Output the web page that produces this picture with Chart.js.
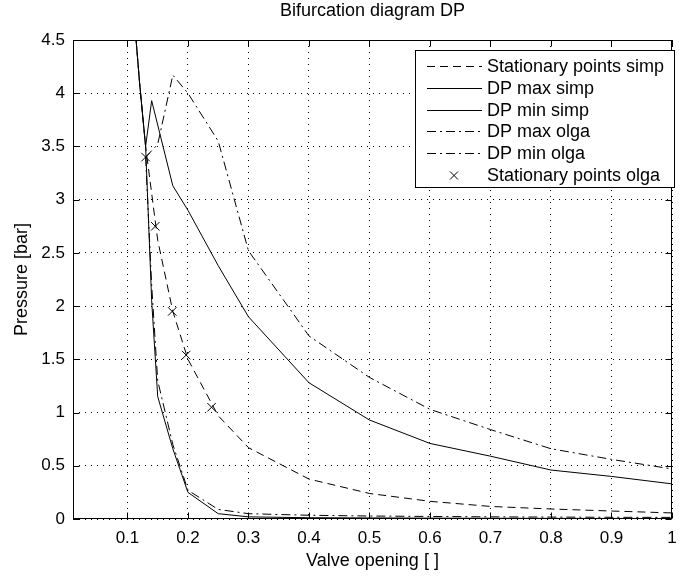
<!DOCTYPE html>
<html>
<head>
<meta charset="utf-8">
<script src="https://cdn.jsdelivr.net/npm/chart.js@4.4.1/dist/chart.umd.min.js"></script>
<style>
  html, body { margin: 0; padding: 0; background: #fff; }
</style>
</head>
<body>
<canvas id="bifChart" width="679" height="576"></canvas>
<script>
// values
const simpStatX = [0.1, 0.11, 0.12, 0.13, 0.15, 0.175, 0.2, 0.25, 0.3, 0.4, 0.5, 0.6, 0.7, 0.8, 0.9, 1.0];
const simpStatY = [5.6, 4.8, 4.1, 3.5, 2.62, 1.95, 1.5, 0.97, 0.67, 0.375, 0.24, 0.166, 0.118, 0.094, 0.075, 0.057];

const simpMaxX = [0.1, 0.11, 0.12, 0.13, 0.14, 0.175, 0.2, 0.25, 0.3, 0.4, 0.5, 0.6, 0.7, 0.8, 0.9, 1.0];
const simpMaxY = [5.6, 4.8, 4.1, 3.5, 3.93, 3.13, 2.9, 2.38, 1.9, 1.28, 0.93, 0.71, 0.59, 0.46, 0.40, 0.33];

const simpMinX = [0.1, 0.11, 0.12, 0.13, 0.14, 0.15, 0.175, 0.2, 0.25, 0.3, 0.4, 0.5, 0.6, 0.7, 0.8, 0.9, 1.0];
const simpMinY = [5.6, 4.8, 4.1, 3.5, 2.05, 1.15, 0.66, 0.25, 0.05, 0.02, 0.012, 0.01, 0.008, 0.007, 0.006, 0.005, 0.005];

const olgaMaxX = [0.13, 0.15, 0.175, 0.2, 0.25, 0.3, 0.4, 0.5, 0.6, 0.7, 0.8, 0.9, 1.0];
const olgaMaxY = [3.4, 3.52, 4.17, 4.0, 3.55, 2.52, 1.72, 1.33, 1.03, 0.84, 0.66, 0.56, 0.47];

const olgaMinX = [0.13, 0.14, 0.15, 0.175, 0.2, 0.25, 0.3, 0.4, 0.5, 0.6, 0.7, 0.8, 0.9, 1.0];
const olgaMinY = [3.4, 2.2, 1.3, 0.7, 0.27, 0.09, 0.05, 0.035, 0.028, 0.024, 0.02, 0.018, 0.016, 0.015];

const olgaStatX = [0.13, 0.146, 0.174, 0.197, 0.239];
const olgaStatY = [3.40, 2.75, 1.95, 1.54, 1.05];

const xTicks = [0.1, 0.2, 0.3, 0.4, 0.5, 0.6, 0.7, 0.8, 0.9, 1];
const xTickLabels = ['0.1', '0.2', '0.3', '0.4', '0.5', '0.6', '0.7', '0.8', '0.9', '1'];
const yTicks = [0, 0.5, 1, 1.5, 2, 2.5, 3, 3.5, 4, 4.5];
const yTickLabels = ['0', '0.5', '1', '1.5', '2', '2.5', '3', '3.5', '4', '4.5'];

const FONT = "'Liberation Sans', Arial, Helvetica, sans-serif";
const pts = (xs, ys) => xs.map((x, i) => ({ x: x, y: ys[i] }));

const DASHED = [8, 5];
const DASHDOT = [9, 4, 2, 4];

// common look of every curve
const lineStyle = {
  borderColor: '#000', backgroundColor: '#000', borderWidth: 1,
  pointRadius: 0, tension: 0, fill: false, clip: 0
};

// box, inward ticks, title and legend the way matlab draws them
const matlabAxes = {
  id: 'matlabAxes',
  afterDraw(chart) {
    const ctx = chart.ctx;
    const a = chart.chartArea;
    const xs = chart.scales.x, ys = chart.scales.y;
    const L = Math.round(a.left) + 0.5, R = Math.round(a.right) - 0.5;
    const T = Math.round(a.top) + 0.5, B = Math.round(a.bottom) - 0.5;
    ctx.save();
    ctx.strokeStyle = '#000';
    ctx.lineWidth = 1;
    ctx.setLineDash([]);
    ctx.strokeRect(L, T, R - L, B - T);

    ctx.beginPath();
    xTicks.forEach(v => {
      const px = Math.round(xs.getPixelForValue(v)) + 0.5;
      ctx.moveTo(px, B); ctx.lineTo(px, B - 6);
      ctx.moveTo(px, T); ctx.lineTo(px, T + 6);
    });
    yTicks.forEach(v => {
      const py = Math.round(ys.getPixelForValue(v)) + 0.5;
      ctx.moveTo(L, py); ctx.lineTo(L + 6, py);
      ctx.moveTo(R, py); ctx.lineTo(R - 6, py);
    });
    ctx.stroke();

    ctx.fillStyle = '#000';
    ctx.font = '18px ' + FONT;
    ctx.textAlign = 'center';
    ctx.textBaseline = 'middle';
    ctx.fillText('Bifurcation diagram DP', (a.left + a.right) / 2, 11);

    // legend
    const bx = 415.5, by = 50.5, bw = 259, bh = 137;
    ctx.fillStyle = '#fff';
    ctx.fillRect(bx, by, bw, bh);
    ctx.strokeRect(bx, by, bw, bh);
    ctx.textAlign = 'left';
    chart.data.datasets.forEach((ds, i) => {
      const y = Math.round(66 + i * 21.8) + 0.5;
      ctx.strokeStyle = '#000';
      if (ds.showLine === false) {
        const r = 4;
        ctx.setLineDash([]);
        ctx.beginPath();
        ctx.moveTo(454 - r, y - r); ctx.lineTo(454 + r, y + r);
        ctx.moveTo(454 - r, y + r); ctx.lineTo(454 + r, y - r);
        ctx.stroke();
      } else {
        ctx.setLineDash(ds.borderDash || []);
        ctx.beginPath();
        ctx.moveTo(427, y); ctx.lineTo(482, y);
        ctx.stroke();
      }
      ctx.fillStyle = '#000';
      ctx.fillText(ds.label, 487, y + 1);
    });
    ctx.restore();
  }
};

const ctx = document.getElementById('bifChart').getContext('2d');
const bifChart = new Chart(ctx, {
  type: 'line',
  data: {
    datasets: [
      { ...lineStyle, label: 'Stationary points simp', data: pts(simpStatX, simpStatY), borderDash: DASHED },
      { ...lineStyle, label: 'DP max simp', data: pts(simpMaxX, simpMaxY) },
      { ...lineStyle, label: 'DP min simp', data: pts(simpMinX, simpMinY) },
      { ...lineStyle, label: 'DP max olga', data: pts(olgaMaxX, olgaMaxY), borderDash: DASHDOT },
      { ...lineStyle, label: 'DP min olga', data: pts(olgaMinX, olgaMinY), borderDash: DASHDOT },
      { ...lineStyle, label: 'Stationary points olga', data: pts(olgaStatX, olgaStatY), showLine: false,
        pointStyle: 'crossRot', pointRadius: 6, pointBorderWidth: 1,
        pointBorderColor: '#000', pointBackgroundColor: '#000' }
    ]
  },
  options: {
    responsive: false,
    animation: false,
    devicePixelRatio: 1,
    layout: { padding: { top: 40, right: 1, left: 0, bottom: 0 } },
    plugins: {
      legend: { display: false }, title: { display: false },
      tooltip: { enabled: false }, colors: { enabled: false }
    },
    scales: {
      x: {
        type: 'linear', min: 0.01, max: 1,
        afterBuildTicks: s => { s.ticks = xTicks.map(v => ({ value: v })); },
        afterFit: s => { s.height = 57; s.paddingLeft = 0; s.paddingRight = 0; },
        grid: { color: '#000', lineWidth: 1, drawTicks: false },
        border: { display: false, dash: [1, 5] },
        ticks: { color: '#000', padding: 9, maxRotation: 0, autoSkip: false,
                 font: { size: 17, family: FONT },
                 callback: (v, i) => xTickLabels[i] },
        title: { display: true, text: 'Valve opening [ ]', color: '#000',
                 font: { size: 18, family: FONT }, padding: { top: 0, bottom: 4 } }
      },
      y: {
        min: 0, max: 4.5,
        afterBuildTicks: s => { s.ticks = yTicks.map(v => ({ value: v })); },
        afterFit: s => { s.width = 73; s.paddingTop = 0; s.paddingBottom = 0; },
        grid: { color: '#000', lineWidth: 1, drawTicks: false },
        border: { display: false, dash: [1, 5] },
        ticks: { color: '#000', padding: 8, autoSkip: false,
                 font: { size: 17, family: FONT },
                 callback: (v, i) => yTickLabels[i] },
        title: { display: true, text: 'Pressure [bar]', color: '#000',
                 font: { size: 18, family: FONT }, padding: { top: 11, bottom: 0 } }
      }
    }
  },
  plugins: [matlabAxes]
});
</script>
</body>
</html>
